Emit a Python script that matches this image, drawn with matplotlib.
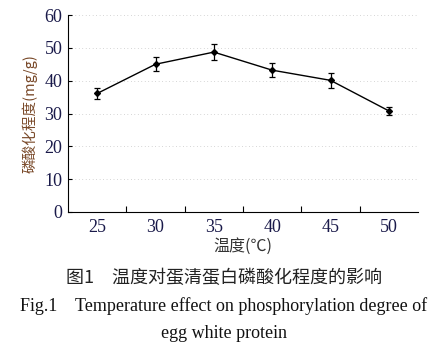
import numpy as np
import matplotlib
matplotlib.use("Agg")
import matplotlib.pyplot as plt

temps = ["25", "30", "35", "40", "45", "50"]
degree = [36.1, 45.0, 48.7, 43.2, 40.1, 30.8]
err = [1.8, 2.2, 2.4, 2.2, 2.2, 1.2]

serif = ["Liberation Serif", "DejaVu Serif"]
cjk = ["Noto Sans CJK SC", "Liberation Serif"]
navy = "#1a1a4a"

fig = plt.figure(figsize=(4.48, 3.52), dpi=100)
ax = fig.add_axes([68 / 448, 1 - 212 / 352, 350 / 448, 197 / 352])

x = np.arange(len(temps))
ax.errorbar(x, degree, yerr=err, color="black", lw=1.0, marker="D", ms=3,
            capsize=2.5, elinewidth=0.9, capthick=0.9)

ax.set_xlim(-0.5, len(temps) - 0.5)
ax.set_ylim(0, 60)
ax.set_yticks(range(0, 61, 10))
ax.set_yticklabels([str(v) for v in range(0, 61, 10)], family=serif, fontsize=13, color=navy)
ax.set_xticks(x)
ax.set_xticklabels(temps, family=serif, fontsize=13, color=navy)
ax.set_xticks(np.arange(0.5, len(temps) - 0.5), minor=True)
ax.tick_params(axis="x", which="major", length=0, pad=5)
ax.tick_params(axis="x", which="minor", direction="in", length=4, width=0.8)
ax.tick_params(axis="y", direction="in", length=3, width=0.8, pad=4)
ax.grid(axis="y", ls=(0, (1, 4)), color="#b0b0b0", lw=0.5)
for s in ["top", "right"]:
    ax.spines[s].set_visible(False)
for s in ["left", "bottom"]:
    ax.spines[s].set_linewidth(0.8)

ax.set_ylabel("磷酸化程度(mg/g)", family=cjk, fontsize=10.5, color="#7a4a2a", labelpad=5)
ax.set_xlabel("温度(℃)", family=cjk, fontsize=11.5, color="#333333", labelpad=1)

fig.text(0.5, 1 - 278 / 352, "图1　温度对蛋清蛋白磷酸化程度的影响", family=cjk,
         fontsize=13, ha="center", va="center", color="#222222")
fig.text(0.5, 1 - 306 / 352, "Fig.1    Temperature effect on phosphorylation degree of",
         family=serif, fontsize=13, ha="center", va="center", color="#111111")
fig.text(0.5, 1 - 333 / 352, "egg white protein", family=serif, fontsize=13,
         ha="center", va="center", color="#111111")

fig.savefig("out.png", dpi=100)
